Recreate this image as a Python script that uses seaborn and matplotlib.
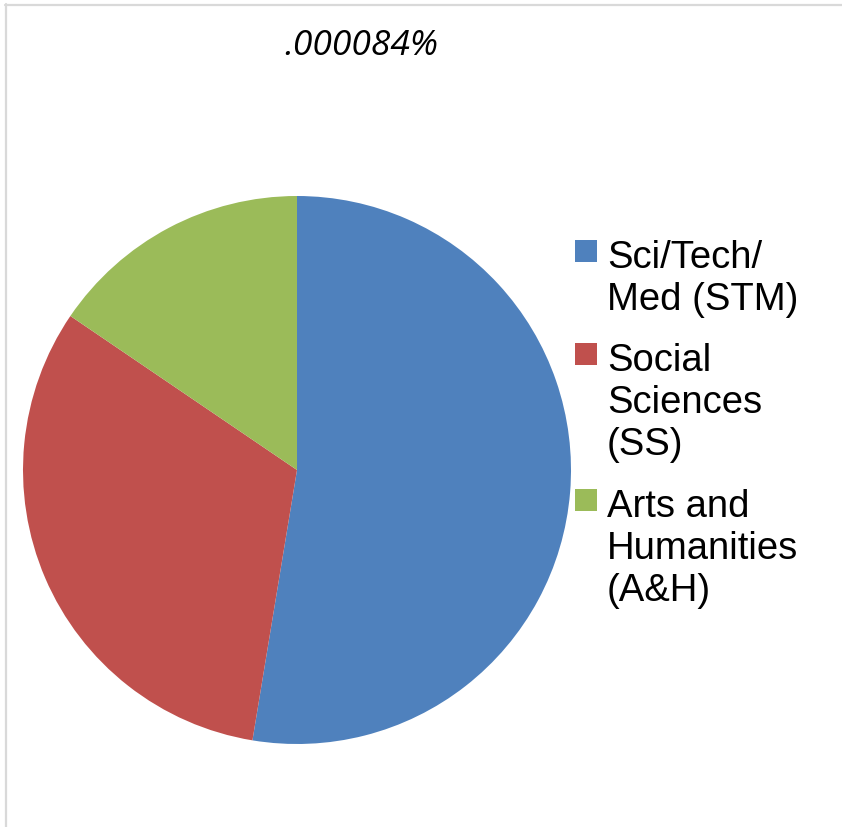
import matplotlib
matplotlib.use("Agg")
import matplotlib.pyplot as plt
from matplotlib.patches import Rectangle
from matplotlib.lines import Line2D
import seaborn as sns

# data
labels = ["Sci/Tech/\nMed (STM)", "Social\nSciences\n(SS)", "Arts and\nHumanities\n(A&H)"]
shares = [52.6, 31.9, 15.5]
colors = ["#4F81BD", "#C0504D", "#9BBB59"]
note = ".000084%"

sns.set_style("white")
plt.rcParams["font.family"] = ["Liberation Sans", "DejaVu Sans"]

W, H = 842, 827
fig = plt.figure(figsize=(W / 100, H / 100), dpi=100)

# pie: centre (297, 470), radius 274 px
cx, cy, r = 297, 470, 274
ax = fig.add_axes([(cx - r) / W, (H - cy - r) / H, 2 * r / W, 2 * r / H])
ax.pie(shares, colors=colors, startangle=90, counterclock=False,
       radius=1, wedgeprops=dict(linewidth=0))
ax.set_xlim(-1, 1)
ax.set_ylim(-1, 1)
ax.set_aspect("equal")
ax.axis("off")

# frame lines of the chart area (gray)
fig.add_artist(Line2D([5 / W, 1], [1 - 4.5 / H] * 2, color="#D9D9D9", lw=1.6,
                      transform=fig.transFigure))
fig.add_artist(Line2D([5.5 / W] * 2, [0, 1 - 4 / H], color="#D9D9D9", lw=1.6,
                      transform=fig.transFigure))

# italic note at top
fig.text(361 / W, 1 - 55 / H, note, ha="center", va="baseline",
         fontsize=25.5, style="italic", color="black",
         family=["Open Sans", "DejaVu Sans"])

# legend drawn by hand so the square sits at the first line
tops = [240, 343, 489]
line_h = 42
for lab, col, top in zip(labels, colors, tops):
    fig.add_artist(Rectangle((575 / W, 1 - (top + 22) / H), 22 / W, 22 / H,
                             facecolor=col, edgecolor="none",
                             transform=fig.transFigure))
    for i, line in enumerate(lab.split("\n")):
        fig.text(607 / W, 1 - (top + 28 + i * line_h) / H, line,
                 ha="left", va="baseline", fontsize=27.5, color="black")

fig.savefig("out.png", dpi=100)
